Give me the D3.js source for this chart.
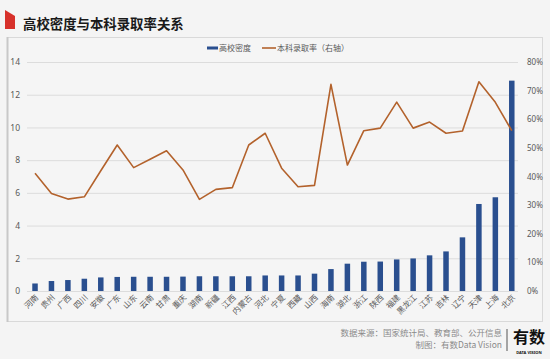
<!DOCTYPE html>
<html><head><meta charset="utf-8">
<script src="https://cdn.jsdelivr.net/npm/d3@7"></script>
<style>
html,body{margin:0;padding:0;background:#f4f4f4;}
svg{display:block;font-family:"Noto Sans CJK SC","Noto Sans",sans-serif;}
</style></head>
<body><svg id="c" width="550" height="359"></svg>
<script>
const provinces = ["河南","贵州","广西","四川","安徽","广东","山东","云南","甘肃","重庆","湖南","新疆","江西","内蒙古","河北","宁夏","西藏","山西","海南","湖北","浙江","陕西","福建","黑龙江","江苏","吉林","辽宁","天津","上海","北京"];
const density = [0.46,0.61,0.67,0.75,0.83,0.86,0.87,0.87,0.87,0.88,0.9,0.9,0.9,0.9,0.95,0.95,0.95,1.06,1.34,1.67,1.79,1.8,1.93,1.99,2.18,2.42,3.28,5.32,5.73,12.86];
const admission = [41.1,34.1,32.1,32.9,42.0,51.0,43.1,46.0,49.0,42.3,32.0,35.5,36.1,51.0,55.1,42.9,36.4,36.9,72.2,44.0,56.0,56.9,66.0,56.9,59.0,55.1,55.9,73.1,65.9,56.0];
const leftTicks = [0,2,4,6,8,10,12,14];
const rightTicks = [0,10,20,30,40,50,60,70,80];
const title = "高校密度与本科录取率关系";
const legendLabels = ["高校密度","本科录取率（右轴）"];
const sourceLines = ["数据来源：国家统计局、教育部、公开信息","制图：有数Data Vision"];

const svg = d3.select("#c");
const barColor = "#2a4f8f", lineColor = "#b3622c", textColor = "#595959";

// panel
svg.append("rect").attr("x",7.5).attr("y",37.5).attr("width",535).attr("height",284)
  .attr("fill","#f5f5f5").attr("stroke","#d9d9d9");
svg.append("line").attr("x1",7.5).attr("x2",7.5).attr("y1",37).attr("y2",322).attr("stroke","#c8c8c8").attr("stroke-width",2);

// title
svg.append("path").attr("d","M5,10 L15,16 L15,29 L5,29 Z").attr("fill","#d7312b");
svg.append("text").attr("x",23).attr("y",29).attr("font-size",13.4).attr("font-weight","bold").attr("fill","#1a1a1a").text(title);

const x = d3.scaleBand().domain(provinces).range([26.8,520]).paddingInner(0);
const yL = d3.scaleLinear().domain([0,14]).range([291,62]);
const yR = d3.scaleLinear().domain([0,80]).range([291,62]);

// grid
svg.append("g").selectAll("line").data(leftTicks).join("line")
  .attr("x1",27).attr("x2",518).attr("y1",d=>yL(d)+0.5).attr("y2",d=>yL(d)+0.5)
  .attr("stroke","#dcdcdc").attr("stroke-width",1);

// left axis
const gl = svg.append("g").attr("transform","translate(22,0)")
  .call(d3.axisLeft(yL).tickValues(leftTicks).tickSize(0).tickPadding(2));
gl.select(".domain").remove();
gl.selectAll("text").attr("font-size",8.5).attr("fill",textColor).attr("font-family","Noto Sans, sans-serif");

// right axis
const gr = svg.append("g").attr("transform","translate(525,0)")
  .call(d3.axisRight(yR).tickValues(rightTicks).tickSize(0).tickPadding(2).tickFormat(d=>d+"%"));
gr.select(".domain").remove();
gr.selectAll("text").attr("font-size",8).attr("fill",textColor).attr("font-family","Noto Sans, sans-serif");

// bars
const bw = 5.5;
svg.append("g").selectAll("rect").data(provinces).join("rect")
  .attr("x",(d)=>x(d)+x.bandwidth()/2-bw/2).attr("width",bw)
  .attr("y",(d,i)=>yL(density[i])).attr("height",(d,i)=>yL(0)-yL(density[i]))
  .attr("fill",barColor);

// line
const line = d3.line().x((d,i)=>x(provinces[i])+x.bandwidth()/2).y(d=>yR(d));
svg.append("path").datum(admission).attr("d",line).attr("fill","none")
  .attr("stroke",lineColor).attr("stroke-width",1.6).attr("stroke-linejoin","round");

// x labels
svg.append("g").selectAll("text").data(provinces).join("text")
  .attr("transform",d=>`translate(${x(d)+x.bandwidth()/2+4},${298}) rotate(-45)`)
  .attr("text-anchor","end").attr("font-size",8).attr("fill",textColor).text(d=>d);

// legend
const lg = svg.append("g");
lg.append("rect").attr("x",207).attr("y",46.5).attr("width",11).attr("height",3).attr("fill",barColor);
lg.append("text").attr("x",219).attr("y",51).attr("font-size",8).attr("fill",textColor).text(legendLabels[0]);
lg.append("line").attr("x1",262).attr("x2",276).attr("y1",48).attr("y2",48).attr("stroke",lineColor).attr("stroke-width",1.6);
lg.append("text").attr("x",277).attr("y",51).attr("font-size",8).attr("fill",textColor).text(legendLabels[1]);

// footer
svg.append("g").selectAll("text").data(sourceLines).join("text")
  .attr("x",502).attr("y",(d,i)=>336+i*12).attr("text-anchor","end")
  .attr("font-size",8.5).attr("fill","#8a8a8a").text(d=>d);
svg.append("line").attr("x1",507).attr("x2",507).attr("y1",329).attr("y2",351).attr("stroke","#555").attr("stroke-width",1);
svg.append("text").attr("x",529).attr("y",343).attr("text-anchor","middle").attr("font-size",16).attr("font-weight","bold").attr("fill","#111").text("有数");
svg.append("text").attr("x",529).attr("y",353.5).attr("text-anchor","middle").attr("font-size",4).attr("font-weight","bold").attr("fill","#111").attr("font-family","Noto Sans, sans-serif").text("DATA VISION");
</script></body></html>
